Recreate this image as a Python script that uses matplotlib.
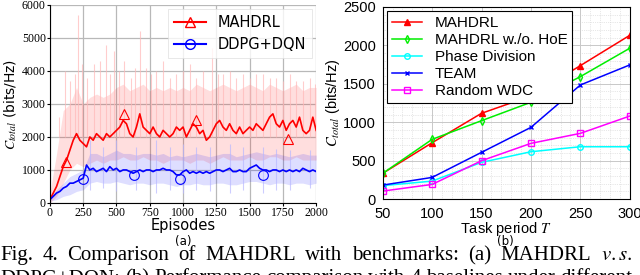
import numpy as np
import matplotlib
matplotlib.use("Agg")
import matplotlib.pyplot as plt
from matplotlib.ticker import MultipleLocator

plt.rcParams['mathtext.fontset'] = 'stix'

# ---------------- (a) training curves ----------------
episodes = np.arange(0, 2001, 25)
mahdrl_mean = [100, 300, 500, 800, 1100, 1300, 1600, 1900, 2100, 1900, 1800, 1700, 2000, 1900,
               2100, 2000, 1900, 2100, 2000, 2100, 2200, 2300, 2500, 2400, 2100, 2000, 2300, 2700,
               2300, 2200, 2100, 2300, 2100, 2000, 2200, 2100, 2000, 2100, 2300, 2200, 2300, 2000,
               2200, 2400, 2300, 2100, 2200, 1900, 2000, 2200, 2400, 2500, 2300, 2200, 2400, 2200,
               2100, 2300, 2100, 2200, 2300, 2200, 2400, 2300, 2200, 2400, 2600, 2700, 2400, 2300,
               2500, 2200, 2400, 2500, 2300, 2600, 2200, 2100, 2200, 2600, 2200]
ddpg_mean = [100, 200, 300, 350, 450, 500, 600, 600, 650, 700, 750, 1150, 1000, 1050, 950, 1000,
             1050, 950, 1100, 1000, 1050, 950, 1000, 1000, 950, 900, 950, 1000, 950, 1000, 1000,
             950, 1000, 1000, 1050, 1000, 1000, 950, 850, 850, 950, 1000, 900, 950, 900, 950, 900,
             950, 900, 950, 1000, 1000, 950, 1000, 1050, 950, 950, 1000, 950, 950, 1050, 1100,
             1150, 1050, 1000, 1000, 950, 1000, 1000, 950, 1000, 950, 1000, 950, 1000, 950, 1050,
             1000, 950, 1000, 950]

band_ep = np.arange(0, 2001, 50)
mahdrl_upper = [300, 1500, 2800, 3000, 3500, 3000, 3200, 3300, 3200, 3300, 3500, 3600, 3400, 3500,
                3600, 3400, 3500, 3400, 3500, 3400, 3500, 3400, 3600, 3500, 3400, 3500, 3600, 3500,
                3400, 3500, 3600, 3500, 3400, 3600, 3500, 3400, 3500, 3600, 3400, 3500, 3500]
mahdrl_lower = [0, 200, 600, 1000, 1200, 1100, 1200, 1300, 1200, 1300, 1300, 1400, 1300, 1300,
                1400, 1300, 1300, 1200, 1300, 1300, 1300, 1200, 1300, 1300, 1200, 1300, 1400, 1300,
                1300, 1300, 1400, 1300, 1300, 1400, 1400, 1300, 1300, 1400, 1300, 1300, 1300]
ddpg_upper = [150, 400, 600, 800, 900, 1000, 1500, 1500, 1400, 1500, 1600, 1500, 1500, 1450,
              1500, 1500, 1450, 1500, 1400, 1450, 1400, 1450, 1500, 1450, 1400, 1450, 1500, 1500,
              1400, 1450, 1500, 1550, 1500, 1450, 1500, 1450, 1400, 1450, 1500, 1450, 1450]
ddpg_lower = [50, 100, 200, 250, 350, 400, 600, 650, 600, 600, 650, 600, 550, 600, 600, 550,
              600, 600, 550, 500, 550, 550, 600, 550, 550, 600, 600, 550, 550, 600, 650, 650,
              600, 550, 600, 600, 550, 600, 600, 550, 600]

spike_ep_red = [70, 110, 150, 185, 210, 240, 280, 330, 376, 420, 450, 480, 520, 560, 610, 640,
                677, 720, 760, 800, 850, 900, 950, 1000, 1050, 1100, 1150, 1218, 1260, 1300,
                1350, 1400, 1450, 1500, 1550, 1600, 1650, 1700, 1750, 1800, 1850, 1900, 1950, 1990]
spike_val_red = [2600, 4000, 3700, 3900, 5700, 4200, 3800, 4200, 4300, 4800, 3900, 4600, 4000,
                 4300, 3800, 4100, 5200, 4100, 3900, 4000, 4300, 3800, 3900, 4000, 4200, 3800,
                 4000, 4700, 3900, 3900, 4000, 3800, 3900, 3800, 3900, 3900, 3800, 3800, 3700,
                 3900, 3700, 3700, 3800, 3600]
spike_ep_blue = [300, 400, 500, 650, 800, 900, 1000, 1100, 1200, 1350, 1450, 1600, 1700, 1800, 1950]
spike_hi_blue = [1900, 1700, 1900, 1700, 1900, 1700, 1800, 1700, 1700, 1800, 1700, 1700, 1650,
                 1600, 1600]
spike_lo_blue = [400, 450, 350, 400, 300, 400, 300, 400, 350, 300, 400, 300, 400, 400, 450]

mark_ep_red = [120, 560, 1100, 1790]
mark_val_red = [1250, 2700, 2500, 1950]
mark_ep_blue = [250, 630, 980, 1600]
mark_val_blue = [720, 850, 720, 850]

# ---------------- (b) task period ----------------
task_period = [50, 100, 150, 200, 250, 300]
res_mahdrl = [335, 733, 1116, 1341, 1736, 2130]
res_no_hoe = [335, 777, 1020, 1259, 1593, 1962]
res_phase = [175, 234, 478, 616, 681, 681]
res_team = [182, 282, 608, 933, 1484, 1745]
res_random = [104, 191, 499, 725, 855, 1080]

caption_1 = 'Fig. 4.  Comparison of MAHDRL with benchmarks: (a) MAHDRL $\\mathit{v.s.}$'
caption_2 = 'DDPG+DQN; (b) Performance comparison with 4 baselines under different'

fig = plt.figure(figsize=(6.4, 2.75), dpi=100)

# ---- left panel
ax1 = fig.add_axes([0.078, 0.262, 0.416, 0.720])
ax1.fill_between(band_ep, mahdrl_lower, mahdrl_upper, color='#ff0000', alpha=0.13, lw=0)
ax1.fill_between(band_ep, ddpg_lower, ddpg_upper, color='#0000ff', alpha=0.13, lw=0)
ax1.vlines(spike_ep_red, 2000, spike_val_red, color='#ffb8b8', lw=0.8, alpha=0.7)
ax1.vlines(spike_ep_blue, spike_lo_blue, spike_hi_blue, color='#b8b8ff', lw=0.8, alpha=0.7)
ax1.plot(episodes, mahdrl_mean, color='#ff0000', lw=1.2)
ax1.plot(episodes, ddpg_mean, color='#0000ff', lw=1.2)
ax1.plot(mark_ep_red, mark_val_red, ls='none', marker='^', ms=7, mfc='none', mec='#ff0000', mew=0.8)
ax1.plot(mark_ep_blue, mark_val_blue, ls='none', marker='o', ms=7, mfc='none', mec='#0000ff', mew=0.8)
# legend proxies
ax1.plot([], [], color='#ff0000', marker='^', ms=7, mfc='none', label='MAHDRL')
ax1.plot([], [], color='#0000ff', marker='o', ms=7, mfc='none', label='DDPG+DQN')
leg = ax1.legend(loc='upper right', fontsize=10.5, frameon=True, fancybox=False,
                 edgecolor='#dddddd', borderaxespad=0.3, handlelength=2.2)
leg.get_frame().set_linewidth(0.6)

ax1.set_xlim(0, 2000)
ax1.set_ylim(0, 6000)
ax1.set_xticks(np.arange(0, 2001, 250))
ax1.set_yticks(np.arange(0, 6001, 1000))
ax1.grid(True, color='#b8b8b8', lw=0.9)
ax1.set_axisbelow(True)
for side in ['top', 'right']:
    ax1.spines[side].set_visible(False)
ax1.tick_params(length=2, labelsize=8.5, pad=1)
for lbl in ax1.get_xticklabels() + ax1.get_yticklabels():
    lbl.set_family('Liberation Serif')
ax1.set_xlabel('Episodes', fontsize=10.5, labelpad=-1)
ax1.set_ylabel(r'$C_{total}$ (bits/Hz)', fontsize=10, labelpad=2)
fig.text(0.286, 1 - 241 / 275, '(a)', ha='center', va='center', fontsize=8.5)

# ---- right panel
ax2 = fig.add_axes([0.598, 0.276, 0.386, 0.699])
ax2.plot(task_period, res_mahdrl, color='#ff0000', marker='^', ms=4, lw=1.1, label='MAHDRL')
ax2.plot(task_period, res_no_hoe, color='#00ee00', marker='d', ms=4, mfc='none', lw=1.1,
         label='MAHDRL w./o. HoE')
ax2.plot(task_period, res_phase, color='#00ffff', marker='o', ms=4, mfc='none', lw=1.1,
         label='Phase Division')
ax2.plot(task_period, res_team, color='#0000ff', marker='x', ms=3, lw=1.1, label='TEAM')
ax2.plot(task_period, res_random, color='#ff00ff', marker='s', ms=4, mfc='none', lw=1.1,
         label='Random WDC')
ax2.set_xlim(50, 300)
ax2.set_ylim(0, 2500)
ax2.set_xticks(task_period)
ax2.set_yticks(np.arange(0, 2501, 500))
ax2.xaxis.set_minor_locator(MultipleLocator(10))
ax2.yaxis.set_minor_locator(MultipleLocator(100))
ax2.grid(True, which='major', color='#c8c8c8', lw=0.7)
ax2.grid(True, which='minor', color='#d0d0d0', lw=0.5, ls=':')
ax2.set_axisbelow(True)
ax2.tick_params(which='both', length=0, labelsize=10.5)
ax2.tick_params(axis='x', pad=6)
ax2.tick_params(axis='y', pad=5)
for lbl in ax2.get_xticklabels() + ax2.get_yticklabels():
    lbl.set_family('Liberation Sans')
ax2.set_xlabel('Task period $T$', fontsize=10.5, labelpad=-1, family='Liberation Sans')
ax2.set_ylabel(r'$C_{total}$ (bits/Hz)', fontsize=10.5, labelpad=1, family='Liberation Sans')
leg2 = ax2.legend(loc='upper left', frameon=True, fancybox=False,
                  edgecolor='black', borderaxespad=0.3, handlelength=2.0,
                  labelspacing=0.2, borderpad=0.3, prop={'family': 'Liberation Sans', 'size': 11})
leg2.get_frame().set_linewidth(0.8)
leg2.get_frame().set_alpha(1)
fig.text(0.789, 1 - 241 / 275, '(b)', ha='center', va='center', fontsize=8.5)

# ---- caption, justified across the figure width
renderer = fig.canvas.get_renderer()
total_w = 632.0
for text_line, base_y in [(caption_1, 1 - 260 / 275), (caption_2, 1 - 283 / 275)]:
    words = text_line.replace('$\\mathit{v.s.}$', 'VS_TOKEN').split()
    words = [w.replace('VS_TOKEN', '$\\mathit{v.s.}$') for w in words]
    items = [fig.text(0, base_y, w, ha='left', va='baseline', fontsize=15,
                      family='Liberation Serif') for w in words]
    widths = [t.get_window_extent(renderer).width for t in items]
    gap = (total_w - sum(widths)) / (len(words) - 1)
    x = 0.0
    for t, w in zip(items, widths):
        t.set_x(x / 640.0)
        x += w + gap

fig.savefig('out.png', dpi=100)
